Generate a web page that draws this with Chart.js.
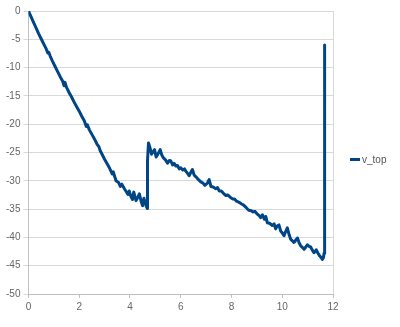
<!DOCTYPE html>
<html>
<head>
<meta charset="utf-8">
<script src="https://cdn.jsdelivr.net/npm/chart.js@4/dist/chart.umd.min.js"></script>
<style>
  html, body { margin: 0; padding: 0; background: #fff; }
  #wrap { position: relative; width: 400px; height: 327px; }
  #legend {
    position: absolute; left: 350px; top: 154px;
    font: 10px "Liberation Sans", Arial, sans-serif; color: #555;
    display: flex; align-items: center; white-space: nowrap;
  }
  #legend .swatch { display: inline-block; width: 10px; height: 3px; margin-right: 2px; }
</style>
</head>
<body>
<div id="wrap">
  <canvas id="chart" width="400" height="327"></canvas>
  <div id="legend"></div>
</div>
<script>
// ── Data ─────────────────────────────────────────────────────────
const seriesLabel = 'v_top';
const seriesColor = '#004586';

const xTicks = [0, 2, 4, 6, 8, 10, 12];
const yTicks = [0, -5, -10, -15, -20, -25, -30, -35, -40, -45, -50];

const time = [
    0.00, 0.10, 0.20, 0.30, 0.40, 0.50, 0.60, 0.70, 0.76, 0.80,
    0.86, 0.95, 1.05, 1.15, 1.25, 1.35, 1.40, 1.44, 1.50, 1.60,
    1.70, 1.80, 1.90, 2.00, 2.10, 2.20, 2.28, 2.32, 2.40, 2.50,
    2.60, 2.70, 2.78, 2.82, 2.90, 3.00, 3.10, 3.20, 3.30, 3.34,
    3.45, 3.55, 3.62, 3.68, 3.78, 3.85, 3.92, 3.97, 4.04, 4.10,
    4.15, 4.24, 4.30, 4.37, 4.45, 4.50, 4.55, 4.62, 4.68, 4.69,
    4.73, 4.78, 4.85, 4.92, 4.97, 5.03, 5.10, 5.19, 5.25, 5.31,
    5.40, 5.48, 5.55, 5.61, 5.68, 5.74, 5.81, 5.87, 5.94, 6.00,
    6.08, 6.15, 6.20, 6.27, 6.33, 6.40, 6.46, 6.53, 6.60, 6.70,
    6.79, 6.88, 6.95, 7.05, 7.12, 7.19, 7.28, 7.38, 7.45, 7.52,
    7.60, 7.70, 7.78, 7.85, 7.95, 8.04, 8.12, 8.20, 8.30, 8.40,
    8.48, 8.55, 8.63, 8.69, 8.78, 8.85, 8.92, 9.02, 9.10, 9.15,
    9.22, 9.30, 9.35, 9.41, 9.50, 9.61, 9.68, 9.74, 9.80, 9.87,
    9.94, 10.00, 10.07, 10.13, 10.20, 10.27, 10.33, 10.40, 10.46, 10.53,
    10.60, 10.66, 10.73, 10.80, 10.86, 10.93, 10.99, 11.06, 11.12, 11.18,
    11.25, 11.30, 11.34, 11.41, 11.48, 11.54, 11.58, 11.62, 11.65, 11.66,
    11.67, 11.68
];

const vTop = [
    0.0, -1.0, -2.0, -3.0, -4.0, -4.9, -5.8, -6.7, -7.4, -7.3,
    -8.0, -8.9, -9.8, -10.7, -11.6, -12.4, -13.2, -12.6, -13.5, -14.4,
    -15.2, -16.1, -16.9, -17.7, -18.6, -19.4, -20.4, -20.1, -21.0, -21.8,
    -22.6, -23.5, -24.0, -24.6, -25.3, -26.2, -27.0, -27.8, -28.8, -28.4,
    -30.0, -30.3, -31.0, -30.6, -31.4, -31.9, -32.4, -31.8, -32.8, -33.3,
    -32.0, -33.5, -33.0, -32.3, -33.8, -34.4, -33.1, -34.2, -34.9, -26.5,
    -23.3, -24.0, -25.3, -24.8, -24.5, -25.8, -25.3, -24.5, -25.4, -25.9,
    -26.3, -26.9, -26.4, -26.5, -27.2, -26.9, -27.4, -27.3, -27.9, -27.7,
    -28.1, -27.9, -28.3, -28.7, -29.1, -28.5, -28.0, -29.0, -29.3, -29.8,
    -30.2, -30.4, -30.8, -30.4, -29.8, -31.0, -31.1, -31.4, -31.2, -31.8,
    -31.8, -32.3, -32.6, -32.5, -32.9, -33.2, -33.2, -33.6, -33.8, -34.1,
    -34.3, -34.6, -35.0, -35.2, -35.3, -35.5, -35.4, -35.9, -36.2, -36.5,
    -36.0, -36.8, -36.3, -37.4, -37.5, -37.9, -37.6, -38.5, -38.0, -37.8,
    -38.9, -39.2, -39.7, -39.0, -38.3, -39.5, -40.3, -40.6, -40.9, -40.5,
    -40.1, -40.9, -41.5, -41.8, -42.1, -41.7, -41.3, -41.6, -41.7, -42.2,
    -42.7, -42.5, -42.2, -42.8, -43.3, -43.6, -43.9, -43.6, -42.8, -39.5,
    -6.0, -16.2
];

// ── Chart ────────────────────────────────────────────────────────
const gridColor = '#d9d9d9';
const axisColor = '#c0c0c0';
const tickFont  = { family: '"Liberation Sans", Arial, sans-serif', size: 10 };

const points = time.map((t, i) => ({ x: t, y: vTop[i] }));

const chart = new Chart(document.getElementById('chart'), {
    type: 'line',
    data: {
        datasets: [{
            label: seriesLabel,
            data: points,
            borderColor: seriesColor,
            backgroundColor: seriesColor,
            borderWidth: 3,
            borderJoinStyle: 'round',
            borderCapStyle: 'round',
            pointRadius: 0,
            tension: 0,
            fill: false
        }]
    },
    options: {
        responsive: false,
        animation: false,
        events: [],
        layout: { padding: { left: 3, right: 67, top: 11, bottom: 11 } },
        plugins: { legend: { display: false }, tooltip: { enabled: false } },
        scales: {
            x: {
                type: 'linear',
                min: 0, max: 12,
                afterBuildTicks: axis => { axis.ticks = xTicks.map(v => ({ value: v })); },
                border: { color: axisColor },
                grid: {
                    color: c => (c.tick && c.tick.value === 12) ? gridColor : 'transparent',
                    tickColor: axisColor,
                    tickLength: 4
                },
                ticks: { font: tickFont, color: '#666', padding: 3, maxRotation: 0 }
            },
            y: {
                type: 'linear',
                min: -50, max: 0,
                afterBuildTicks: axis => { axis.ticks = yTicks.map(v => ({ value: v })); },
                border: { color: axisColor },
                grid: { color: gridColor, tickColor: gridColor, tickLength: 5 },
                ticks: { font: tickFont, color: '#666', padding: 3 }
            }
        }
    }
});

// ── Legend (HTML, from dataset) ──────────────────────────────────
const legend = document.getElementById('legend');
chart.data.datasets.forEach(ds => {
    legend.innerHTML += `<span class="swatch" style="background:${ds.borderColor}"></span><span>${ds.label}</span>`;
});
</script>
</body>
</html>
